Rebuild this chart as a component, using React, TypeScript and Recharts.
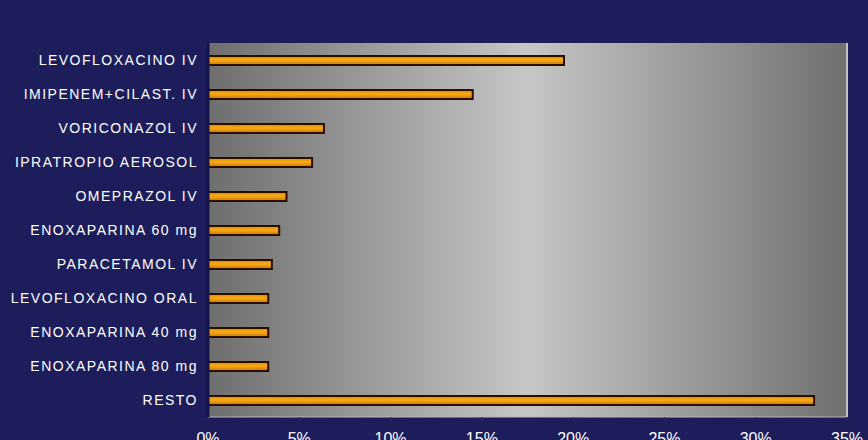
import { BarChart, Bar, XAxis, YAxis, CartesianGrid, ReferenceLine } from "recharts";

const categories = [
  "LEVOFLOXACINO IV",
  "IMIPENEM+CILAST. IV",
  "VORICONAZOL IV",
  "IPRATROPIO AEROSOL",
  "OMEPRAZOL IV",
  "ENOXAPARINA 60 mg",
  "PARACETAMOL IV",
  "LEVOFLOXACINO ORAL",
  "ENOXAPARINA 40 mg",
  "ENOXAPARINA 80 mg",
  "RESTO",
];

const shares = [19.5, 14.5, 6.35, 5.7, 4.3, 3.9, 3.5, 3.3, 3.3, 3.3, 33.2];

const xTicks = [0, 5, 10, 15, 20, 25, 30, 35];

const data = categories.map((name, i) => ({ name, value: shares[i] }));

export default function App() {
  return (
    <div style={{ position: "fixed", left: 0, top: 0, width: 868, height: 440, background: "#1d1d5b" }}>
      <BarChart
        width={868}
        height={440}
        data={data}
        layout="vertical"
        margin={{ top: 43, right: 21, bottom: 0, left: 0 }}
        barCategoryGap={0}
      >
        <defs>
          <linearGradient id="plotBg" x1="0" y1="0" x2="1" y2="0">
            <stop offset="0%" stopColor="#6e6e6e" />
            <stop offset="50%" stopColor="#c6c6c6" />
            <stop offset="100%" stopColor="#707070" />
          </linearGradient>
          <linearGradient id="barFill" x1="0" y1="0" x2="0" y2="1">
            <stop offset="0%" stopColor="#d88a00" />
            <stop offset="45%" stopColor="#fbab16" />
            <stop offset="100%" stopColor="#c87400" />
          </linearGradient>
        </defs>
        <CartesianGrid horizontal={false} vertical={false} fill="url(#plotBg)" stroke="none" />
        <XAxis
          type="number"
          domain={[0, 35]}
          ticks={xTicks}
          height={23}
          tickFormatter={(v) => `${v}%`}
          tick={{ fill: "#ffffff", fontSize: 16, fontFamily: "Liberation Sans, Arial, sans-serif" }}
          axisLine={{ stroke: "#b8b8b8", strokeWidth: 1 }}
          tickLine={{ stroke: "#2a2a60" }}
          tickSize={4}
          tickMargin={12}
          interval={0}
        />
        <YAxis
          type="category"
          dataKey="name"
          width={208}
          tick={{ fill: "#ffffff", fontSize: 14, fontFamily: "Liberation Sans, Arial, sans-serif", letterSpacing: 1.5 }}
          axisLine={{ stroke: "#14144a", strokeWidth: 3 }}
          tickLine={false}
          tickSize={0}
          tickMargin={10}
          interval={0}
        />
        <ReferenceLine x={35} stroke="#c4c4c4" strokeWidth={2} />
        <Bar
          dataKey="value"
          barSize={9}
          fill="url(#barFill)"
          stroke="#2a0e00"
          strokeWidth={2}
          isAnimationActive={false}
        />
      </BarChart>
    </div>
  );
}
